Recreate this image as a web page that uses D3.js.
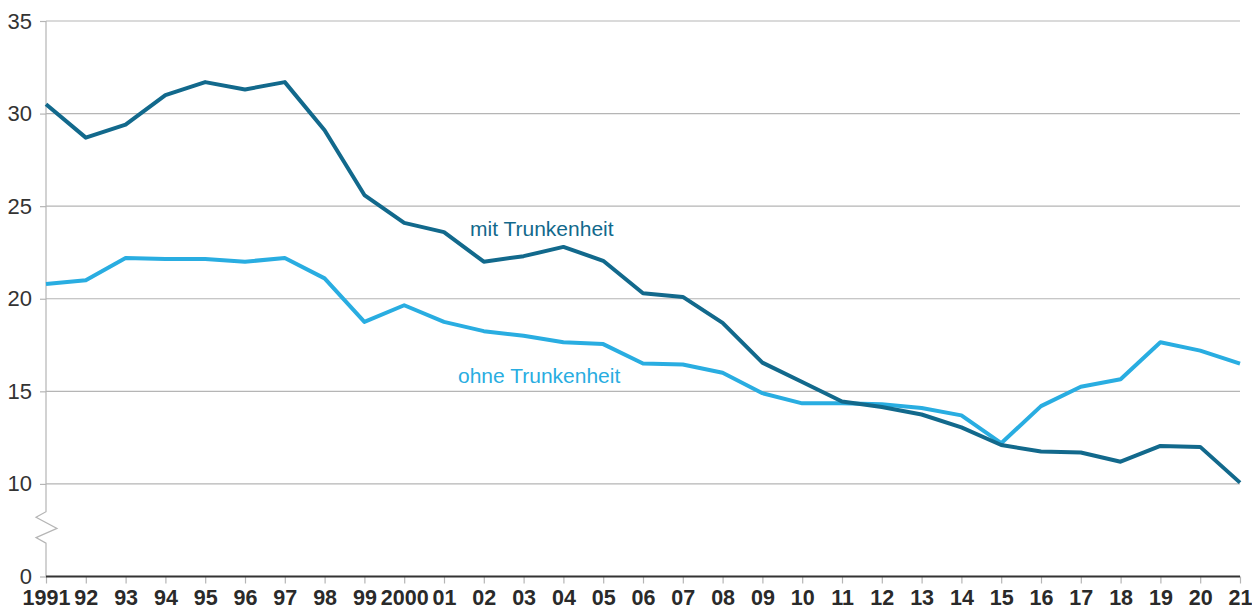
<!DOCTYPE html>
<html lang="de">
<head>
    <meta charset="utf-8">
    <title>Trunkenheit</title>
    <script src="https://d3js.org/d3.v7.min.js"></script>
    <style>
        body { margin: 0; background: #fff; }
        text { font-family: "Liberation Sans", Arial, sans-serif; }
    </style>
</head>
<body>
    <script type="text/javascript">
        var years = d3.range(1991, 2022);
        var yearLabels = ["1991", "92", "93", "94", "95", "96", "97", "98", "99", "2000",
                          "01", "02", "03", "04", "05", "06", "07", "08", "09", "10",
                          "11", "12", "13", "14", "15", "16", "17", "18", "19", "20", "21"];
        var mit = [30.5, 28.7, 29.4, 31.0, 31.7, 31.3, 31.7, 29.1, 25.6, 24.1,
                   23.6, 22.0, 22.3, 22.8, 22.05, 20.3, 20.1, 18.7, 16.55, 15.5,
                   14.45, 14.15, 13.75, 13.05, 12.1, 11.75, 11.7, 11.2, 12.05, 12.0, 10.07];
        var ohne = [20.8, 21.0, 22.2, 22.15, 22.15, 22.0, 22.2, 21.1, 18.75, 19.65,
                    18.75, 18.25, 18.0, 17.65, 17.55, 16.5, 16.45, 16.0, 14.9, 14.35,
                    14.35, 14.3, 14.1, 13.7, 12.2, 14.2, 15.25, 15.65, 17.65, 17.2, 16.5];
        var yTicks = [5, 10, 15, 20, 25, 30, 35];   // 5 stands for the broken-axis "0"

        var w = 1252;
        var h = 612;

        var x = d3.scaleLinear().domain([1991, 2021]).range([46, 1240]);
        var y = d3.scaleLinear().domain([5, 35]).range([576.5, 21]);

        var svg = d3.select("body")
                    .append("svg")
                    .attr("width", w)
                    .attr("height", h);

        //Gridlines + y labels
        var yAxis = svg.append("g")
            .attr("transform", "translate(46,0)")
            .call(d3.axisLeft(y)
                .tickValues(yTicks)
                .tickSize(6)
                .tickPadding(8)
                .tickFormat(function(d) { return d === 5 ? "0" : d; }));
        yAxis.select(".domain").remove();
        yAxis.selectAll(".tick line").attr("stroke", "#b5b5b5").attr("stroke-width", 1.2);
        yAxis.selectAll(".tick text")
            .attr("fill", "#333")
            .style("font-size", "22px");

        svg.append("g").selectAll("line")
            .data(yTicks.filter(function(d) { return d !== 5; }))
            .enter()
            .append("line")
            .attr("x1", 46).attr("x2", 1240)
            .attr("y1", function(d) { return y(d); })
            .attr("y2", function(d) { return y(d); })
            .attr("stroke", "#b5b5b5")
            .attr("stroke-width", 1.2);

        //Vertical axis with break
        var zig = [[46, y(35)], [46, y(8.5)], [36, y(8.2)], [57, y(7.6)], [36, y(7.1)], [46, y(6.8)], [46, y(5)]];
        svg.append("path")
            .attr("d", d3.line()(zig))
            .attr("fill", "none")
            .attr("stroke", "#b5b5b5")
            .attr("stroke-width", 1.2);

        //x axis
        var xAxis = svg.append("g")
            .attr("transform", "translate(0," + y(5) + ")")
            .call(d3.axisBottom(x)
                .tickValues(years)
                .tickSize(7)
                .tickPadding(6)
                .tickFormat(function(d, i) { return yearLabels[i]; }));
        xAxis.select(".domain").remove();
        xAxis.selectAll(".tick line").attr("stroke", "#b5b5b5").attr("stroke-width", 1.2);
        xAxis.selectAll(".tick text")
            .attr("fill", "#2a2a2a")
            .style("font-size", "21.5px")
            .style("font-weight", "bold");
        svg.append("line")
            .attr("x1", 46).attr("x2", 1240)
            .attr("y1", y(5)).attr("y2", y(5))
            .attr("stroke", "#333")
            .attr("stroke-width", 2);

        //Lines
        var line = d3.line()
            .x(function(d, i) { return x(years[i]); })
            .y(function(d) { return y(d); });

        svg.append("path")
            .attr("d", line(ohne))
            .attr("fill", "none")
            .attr("stroke", "#29ade1")
            .attr("stroke-width", 4)
            .attr("stroke-linejoin", "round");

        svg.append("path")
            .attr("d", line(mit))
            .attr("fill", "none")
            .attr("stroke", "#12698c")
            .attr("stroke-width", 4)
            .attr("stroke-linejoin", "round");

        //Series labels
        svg.append("text")
            .attr("x", 470).attr("y", 236)
            .attr("fill", "#12698c")
            .style("font-size", "21px")
            .text("mit Trunkenheit");
        svg.append("text")
            .attr("x", 458).attr("y", 383)
            .attr("fill", "#29ade1")
            .style("font-size", "21px")
            .text("ohne Trunkenheit");
    </script>
</body>
</html>
